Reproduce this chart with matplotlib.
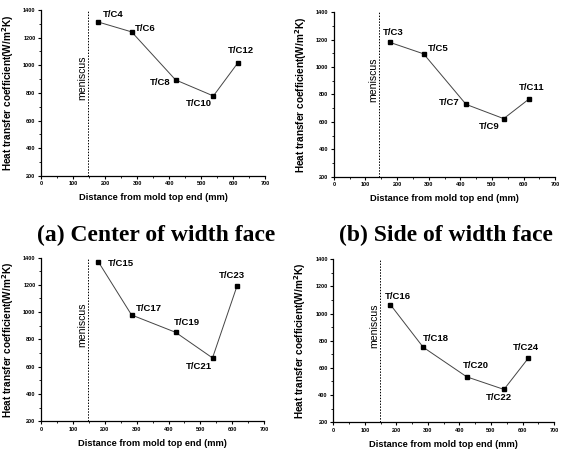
#!/usr/bin/env python3
import matplotlib
matplotlib.use("Agg")
import matplotlib.pyplot as plt
from matplotlib.ticker import MultipleLocator

# distances from mold top end (mm) and heat transfer coefficient (W/m2K)
x_a = [178, 283, 420, 538, 615]
h_a = [1313, 1241, 894, 778, 1019]
tc_a = ['T/C4', 'T/C6', 'T/C8', 'T/C10', 'T/C12']

x_b = [176, 284, 418, 537, 616]
h_b = [1181, 1096, 728, 624, 765]
tc_b = ['T/C3', 'T/C5', 'T/C7', 'T/C9', 'T/C11']

x_c = [180, 284, 422, 538, 615]
h_c = [1368, 979, 852, 664, 1192]
tc_c = ['T/C15', 'T/C17', 'T/C19', 'T/C21', 'T/C23']

x_d = [181, 285, 423, 541, 618]
h_d = [1066, 752, 534, 441, 671]
tc_d = ['T/C16', 'T/C18', 'T/C20', 'T/C22', 'T/C24']

meniscus = [148, 143, 148, 149]

captions = ['(a) Center of width face', '(b) Side of width face']

plt.rcParams['font.family'] = ['Liberation Sans', 'DejaVu Sans']

fig = plt.figure(figsize=(5.62, 4.51), dpi=100)

# axes rectangles in figure fractions
rects = [
    [0.073, 0.610, 0.399, 0.368],
    [0.594, 0.608, 0.394, 0.365],
    [0.073, 0.066, 0.397, 0.363],
    [0.593, 0.064, 0.393, 0.361],
]

# label offsets in pixels (dx, dy, ha)
offs_a = [(15, 7, 'center'), (3, 3, 'left'), (-5, -3, 'right'), (-14, -8, 'center'), (3, 12, 'center')]
offs_b = [(4, 10, 'center'), (4, 5, 'left'), (-7, 2, 'right'), (-14, -8, 'center'), (3, 12, 'center')]
offs_c = [(9, -2, 'left'), (4, 6, 'left'), (11, 10, 'center'), (-14, -9, 'center'), (-5, 10, 'center')]
offs_d = [(8, 8, 'center'), (13, 9, 'center'), (9, 11, 'center'), (-5, -8, 'center'), (-2, 11, 'center')]

panels = [
    (x_a, h_a, tc_a, offs_a),
    (x_b, h_b, tc_b, offs_b),
    (x_c, h_c, tc_c, offs_c),
    (x_d, h_d, tc_d, offs_d),
]

for i, (xs, hs, tcs, offs) in enumerate(panels):
    ax = fig.add_axes(rects[i])
    ax.plot(xs, hs, color='#444444', lw=0.7, marker='s', ms=3.2,
            mfc='black', mec='black')
    for xv, hv, name, (dx, dy, ha) in zip(xs, hs, tcs, offs):
        ax.annotate(name, (xv, hv), xytext=(dx, dy), textcoords='offset pixels',
                    ha=ha, va='center', fontsize=6.8, fontweight='bold')
    ax.axvline(meniscus[i], color='black', ls=(0, (1.5, 1.5)), lw=0.7)
    ax.text(meniscus[i] - 4, 910, 'meniscus', rotation=90, ha='right', va='center',
            fontsize=7.6)
    ax.set_xlim(0, 700)
    ax.set_ylim(200, 1400)
    ax.xaxis.set_major_locator(MultipleLocator(100))
    ax.xaxis.set_minor_locator(MultipleLocator(50))
    ax.yaxis.set_major_locator(MultipleLocator(200))
    ax.yaxis.set_minor_locator(MultipleLocator(100))
    ax.spines['top'].set_visible(False)
    ax.spines['right'].set_visible(False)
    ax.spines['left'].set_linewidth(0.9)
    ax.spines['bottom'].set_linewidth(0.9)
    ax.tick_params(which='major', direction='out', length=2.5, width=0.8,
                   labelsize=4, pad=1.5)
    ax.tick_params(which='minor', direction='out', length=1.5, width=0.6)
    for lab in ax.get_xticklabels() + ax.get_yticklabels():
        lab.set_fontweight('bold')
    ax.set_xlabel('Distance from mold top end (mm)', fontsize=6.7,
                  fontweight='bold', labelpad=5)
    ax.set_ylabel('Heat transfer coefficient(W/m$^\\mathbf{2}$K)', fontsize=7.2,
                  fontweight='bold', labelpad=5)

fig.text(0.278, 0.479, captions[0], ha='center', va='center',
         family=['Liberation Serif', 'DejaVu Serif'], fontweight='bold', fontsize=17)
fig.text(0.794, 0.479, captions[1], ha='center', va='center',
         family=['Liberation Serif', 'DejaVu Serif'], fontweight='bold', fontsize=17)

fig.savefig('out.png', dpi=100)
